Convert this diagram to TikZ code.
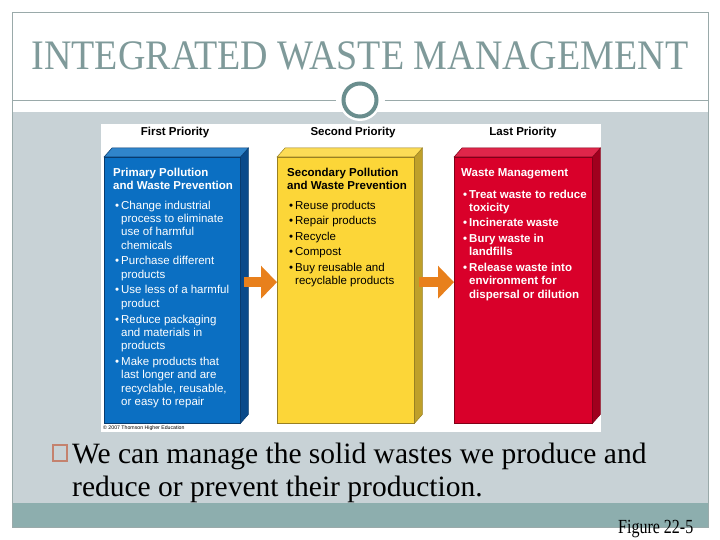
\documentclass[tikz,border=0pt]{standalone}
\usepackage{fontspec}
\setmainfont{Liberation Serif}
\setsansfont{Liberation Sans}
\usetikzlibrary{positioning,calc,arrows.meta}

\definecolor{titlegray}{HTML}{7F9A9A}
\definecolor{ringteal}{HTML}{6A8E8E}
\definecolor{frameline}{HTML}{9AAAAA}
\definecolor{bandgray}{HTML}{C8D2D6}
\definecolor{bandteal}{HTML}{8DAEAE}
\definecolor{boxblue}{HTML}{0B6FC2}
\definecolor{sideblue}{HTML}{0A4A8A}
\definecolor{boxyellow}{HTML}{FCD638}
\definecolor{sideyellow}{HTML}{BFA02A}
\definecolor{boxred}{HTML}{D9002A}
\definecolor{sidered}{HTML}{A0001E}
\definecolor{arroworange}{HTML}{E8801C}
\definecolor{bulletbrown}{HTML}{C4826E}

\newcommand{\pit}{\hspace*{2pt}\makebox[6pt][l]{\textbullet}}
\newcommand{\pco}{\hspace*{8pt}}

\tikzset{
  slab/.style={anchor=north west,inner sep=0pt,minimum width=137pt,
               minimum height=266pt},
  slabtext/.style={anchor=north west,inner sep=0pt,align=left,
                   font=\sffamily\fontsize{11.5}{13.3}\selectfont},
  slabbold/.style={slabtext,font=\sffamily\bfseries\fontsize{11.5}{13.3}\selectfont},
  prio/.style={font=\sffamily\bfseries\fontsize{11.5}{13}\selectfont},
  blockarrow/.style={line width=10pt,arroworange,
                     -{Triangle[width=32pt,length=16pt]}},
  rule/.style={frameline,line width=0.8pt},
}

\begin{document}
\begin{tikzpicture}[x=1pt,y=-1pt]
  \useasboundingbox (0,0) rectangle (720,540);
  % slide frame and bands
  \fill[bandgray] (12,112) rectangle (708,503);
  \fill[bandteal] (12,503) rectangle (708,527);
  \draw[rule] (12,12) rectangle (708,527);
  \node[font=\fontsize{42}{45}\selectfont,text=titlegray] (title) at (360,56)
       {\scalebox{0.905}[1]{INTEGRATED WASTE MANAGEMENT}};
  % divider with ring
  \node[circle,fill=white,minimum size=42pt,inner sep=0pt] (halo) at (360,100) {};
  \node[circle,draw=ringteal,line width=4pt,fill=white,minimum size=33pt,
        inner sep=0pt] (hub) at (halo.center) {};
  \coordinate (ruleL) at (12,100);
  \coordinate (ruleR) at (708,100);
  \draw[rule] (ruleL) -- ([xshift=-6pt]hub.west);
  \draw[rule] ([xshift=6pt]hub.east) -- (ruleR);
  % figure panel
  \fill[white] (101,124) rectangle (601,432);
  \node[prio] (firsthd)  at (175,133) {First Priority};
  \node[prio] (secondhd) at (353,133) {Second Priority};
  \node[prio] (lasthd)   at (523,133) {Last Priority};
  \node[slab,fill=boxblue,minimum width=136pt] (prim) at (104,157) {};
  \node[slab,fill=boxyellow]                   (sec)  at (277,157) {};
  \node[slab,fill=boxred,minimum width=138pt]  (last) at (454,157) {};
  \foreach \b/\f/\s in {prim/boxblue/sideblue,sec/boxyellow/sideyellow,last/boxred/sidered}{
    \filldraw[fill=\s,draw=\s!80!black,line width=0.5pt]
      (\b.north east) -- ++(8,-9) -- ($(\b.south east)+(8,-9)$) -- (\b.south east) -- cycle;
    \filldraw[fill=\f!85!white,draw=\s!80!black,line width=0.5pt]
      (\b.north west) -- ++(8,-9) -- ($(\b.north east)+(8,-9)$) -- (\b.north east) -- cycle;
    \draw[\s!80!black,line width=0.5pt] (\b.north west) rectangle (\b.south east);
  }
  % priority arrows
  \draw[blockarrow] ($(prim.east)+(4,-8)$) -- ($(sec.west)+(0,-8)$);
  \draw[blockarrow] ($(sec.east)+(5,-8)$) -- ($(last.west)+(0,-8)$);
  % box texts
  \node[slabtext,text=white] (primtxt) at (113,168)
    {\textbf{Primary Pollution}\\ \textbf{and Waste Prevention}\\[6pt]
     \pit Change industrial\\ \pco process to eliminate\\ \pco use of harmful\\
     \pco chemicals\\[2.5pt]
     \pit Purchase different\\ \pco products\\[2.5pt]
     \pit Use less of a harmful\\ \pco product\\[2.5pt]
     \pit Reduce packaging\\ \pco and materials in\\ \pco products\\[2.5pt]
     \pit Make products that\\ \pco last longer and are\\ \pco recyclable, reusable,\\
     \pco or easy to repair};
  \node[slabtext,text=black] (sectxt) at (287,168)
    {\textbf{Secondary Pollution}\\ \textbf{and Waste Prevention}\\[6pt]
     \pit Reuse products\\[2.2pt]
     \pit Repair products\\[2.2pt]
     \pit Recycle\\[2.2pt]
     \pit Compost\\[2.2pt]
     \pit Buy reusable and\\ \pco recyclable products};
  \node[slabbold,text=white] (lasttxt) at (461,168)
    {Waste Management\\[8.7pt]
     \pit Treat waste to reduce\\ \pco toxicity\\[2pt]
     \pit Incinerate waste\\[2pt]
     \pit Bury waste in\\ \pco landfills\\[2.8pt]
     \pit Release waste into\\ \pco environment for\\ \pco dispersal or dilution};
  \node[anchor=west,inner sep=0pt,font=\sffamily\fontsize{5.2}{6}\selectfont]
       (credit) at (103,428) {\textcopyright\ 2007 Thomson Higher Education};
  % slide text
  \node[draw=bulletbrown,line width=1.2pt,minimum width=14pt,minimum height=16pt,
        inner sep=0pt] (sq) at (60,453) {};
  \node[anchor=north west,inner sep=0pt,align=left,
        font=\fontsize{29.5}{33}\selectfont] (claim) at (72,443)
       {We can manage the solid wastes we produce and\\
        reduce or prevent their production.};
  \node[anchor=base west,inner sep=0pt,font=\fontsize{20}{22}\selectfont]
       (figref) at (618,533) {\scalebox{0.8}[1]{Figure 22-5}};
\end{tikzpicture}
\end{document}
